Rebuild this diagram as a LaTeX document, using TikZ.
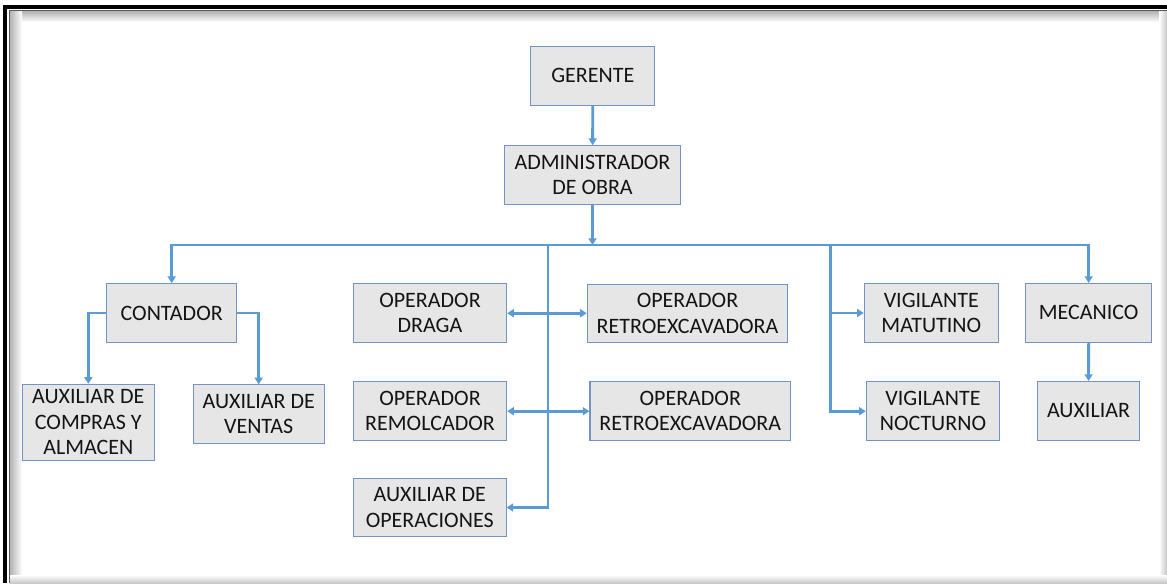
\documentclass[tikz,border=0pt]{standalone}
\usepackage{fontspec}
\setmainfont{Carlito}
\usetikzlibrary{arrows.meta}
\definecolor{azul}{HTML}{5B9BD5}
\definecolor{borde}{HTML}{7393C4}
\definecolor{relleno}{HTML}{E6E6E6}
\newcommand{\ft}{\fontsize{16.5}{18.9}\selectfont}

\begin{document}
\begin{tikzpicture}[x=0.75pt,y=-0.75pt,
   puesto/.style={draw=borde,fill=relleno,line width=0.8pt,align=center,inner sep=0pt,
                  minimum height=44pt,font=\ft,text=black!92},
   linea/.style={draw=azul,line width=2.1pt,-{Triangle[length=5pt,width=6pt]}}]
   \useasboundingbox (0,0) rectangle (1167,583);
   \fill[white] (0,0) rectangle (1167,583);
   \shade[top color=black!30,bottom color=white] (10,11) rectangle (1167,22);
   \shade[left color=black!30,right color=white] (10,11) rectangle (22,583);
   \shade[left color=white,right color=black!22] (1159,11) rectangle (1167,583);
   \shade[top color=white,bottom color=black!22] (10,575) rectangle (1167,583);
   \fill[black] (3,5) rectangle (1167,9);
   \fill[black] (3,5) rectangle (7,583);
   \draw[black!65,line width=0.8pt] (1167,10.8) -- (9.8,10.8) -- (9.8,583);

   \node[puesto,minimum width=93.2pt] (ger) at (592.8,75.8) {GERENTE};
   \node[puesto,minimum width=132.3pt] (adm) at (592.5,175) {ADMINISTRADOR\\DE OBRA};
   \node[puesto,minimum width=97.5pt] (cont) at (171.7,313) {CONTADOR};
   \node[puesto,minimum width=99pt,minimum height=56.8pt] (comp) at (88.3,422.2) {AUXILIAR DE\\COMPRAS Y\\ALMACEN};
   \node[puesto,minimum width=98pt] (vent) at (258.7,414.2) {AUXILIAR DE\\VENTAS};
   \node[puesto,minimum width=115pt] (drag) at (430,313.2) {OPERADOR\\DRAGA};
   \node[puesto,minimum width=150.3pt] (ret1) at (687.5,313.5) {OPERADOR\\RETROEXCAVADORA};
   \node[puesto,minimum width=115pt] (remo) at (430,411.2) {OPERADOR\\REMOLCADOR};
   \node[puesto,minimum width=150.5pt] (ret2) at (690.3,411.2) {OPERADOR\\RETROEXCAVADORA};
   \node[puesto,minimum width=114.5pt] (aop) at (429.7,507.5) {AUXILIAR DE\\OPERACIONES};
   \node[puesto,minimum width=100.5pt] (vmat) at (931.3,313) {VIGILANTE\\MATUTINO};
   \node[puesto,minimum width=100pt] (vnoc) at (933,411.2) {VIGILANTE\\NOCTURNO};
   \node[puesto,minimum width=94.5pt] (mec) at (1088.7,312.8) {MECANICO};
   \node[puesto,minimum width=76.8pt] (aux) at (1088.5,410.8) {AUXILIAR};

   \coordinate (bizq) at (171.7,245);
   \coordinate (bder) at (1088.7,245);
   \coordinate (bmed) at (548,245);
   \coordinate (bvig) at (830.7,245);
   \coordinate (badm) at (592.5,245);

   \draw[linea] (ger) -- (adm);
   \draw[linea] (adm) -- (badm);
   \draw[linea,{Triangle[length=5pt,width=6pt]}-{Triangle[length=5pt,width=6pt]}]
      (cont.north) -- (bizq) -- (bder) -- (mec.north);
   \draw[linea] (bmed) |- (aop);
   \draw[linea] (bvig) |- (vnoc);
   \draw[linea] (bvig |- vmat) -- (vmat);
   \draw[linea,{Triangle[length=5pt,width=6pt]}-{Triangle[length=5pt,width=6pt]}]
      (drag.east) -- (drag.east -| ret1.west);
   \draw[linea,{Triangle[length=5pt,width=6pt]}-{Triangle[length=5pt,width=6pt]}]
      (remo.east) -- (remo.east -| ret2.west);
   \draw[linea] (cont.west) -| (comp.north);
   \draw[linea] (cont.east) -| (vent.north);
   \draw[linea] (mec) -- (aux);
\end{tikzpicture}
\end{document}
